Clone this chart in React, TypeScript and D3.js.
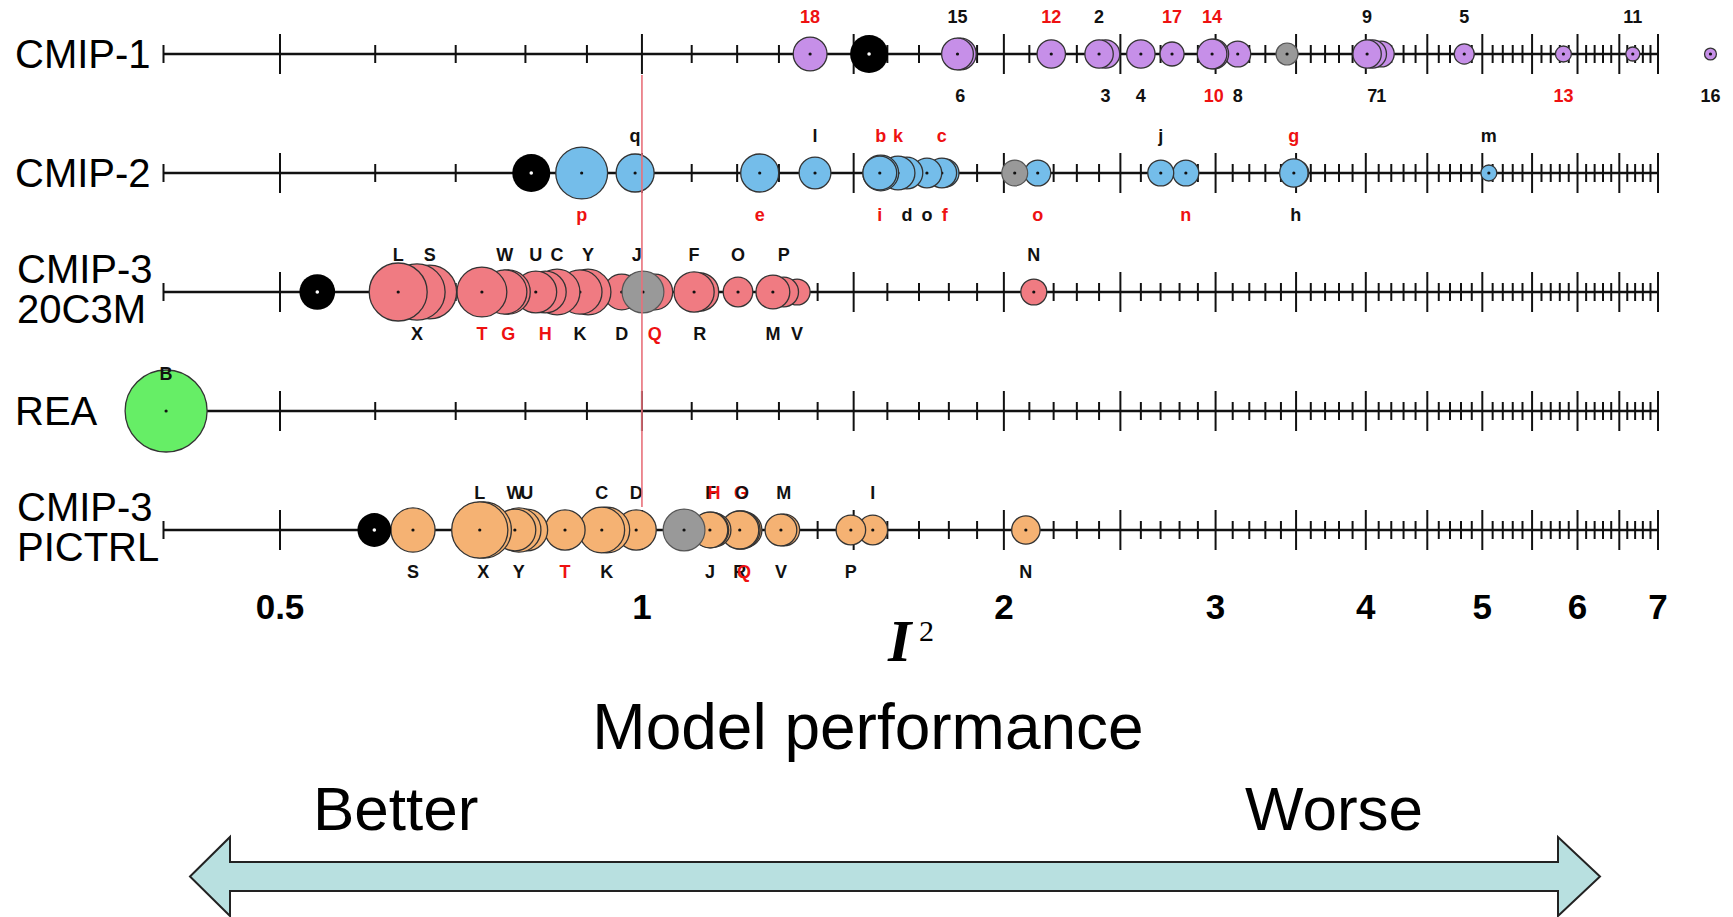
import React from 'react';
import * as d3 from 'd3';

// model entries: [label, I2 value, size (relative weight), label side, red label]
type Entry = [string, number, number, 't' | 'b', 0 | 1];

const cmip1: Entry[] = [
  ['18', 1.38, 17, 't', 1], ['15', 1.83, 15, 't', 0], ['6', 1.84, 15, 'b', 0],
  ['12', 2.19, 12, 't', 1], ['2', 2.40, 12, 't', 0], ['3', 2.43, 12, 'b', 0],
  ['4', 2.60, 12, 'b', 0], ['17', 2.76, 8.6, 't', 1], ['14', 2.98, 13, 't', 1],
  ['10', 2.99, 13, 'b', 1], ['8', 3.13, 10, 'b', 0], ['9', 4.01, 12, 't', 0],
  ['7', 4.05, 12, 'b', 0], ['1', 4.12, 10, 'b', 0], ['5', 4.83, 6, 't', 0],
  ['13', 5.84, 3.8, 'b', 1], ['11', 6.67, 2.9, 't', 0], ['16', 7.74, 2.1, 'b', 0],
];
const cmip2: Entry[] = [
  ['p', 0.891, 40, 'b', 1], ['q', 0.987, 21.5, 't', 0], ['e', 1.253, 21.5, 'b', 1],
  ['l', 1.393, 15, 't', 0], ['b', 1.580, 19, 't', 1], ['i', 1.577, 17, 'b', 1],
  ['k', 1.633, 17, 't', 1], ['d', 1.661, 15, 'b', 0], ['o', 1.726, 13, 'b', 0],
  ['c', 1.776, 13, 't', 1], ['f', 1.786, 12, 'b', 1], ['o', 2.134, 10, 'b', 1],
  ['j', 2.701, 10, 't', 0], ['n', 2.834, 10, 'b', 1], ['g', 3.485, 12, 't', 1],
  ['h', 3.498, 10, 'b', 0], ['m', 5.063, 3.8, 't', 0],
];
const cmip3c20: Entry[] = [
  ['L', 0.627, 50, 't', 0], ['X', 0.650, 47, 'b', 0], ['S', 0.666, 43, 't', 0],
  ['T', 0.736, 37, 'b', 1], ['W', 0.769, 29, 't', 0], ['G', 0.774, 29, 'b', 1],
  ['U', 0.816, 26, 't', 0], ['H', 0.831, 26, 'b', 1], ['C', 0.850, 31, 't', 0],
  ['K', 0.888, 29, 'b', 0], ['Y', 0.902, 31, 't', 0], ['D', 0.962, 19, 'b', 0],
  ['J', 0.990, 19, 't', 0], ['Q', 1.025, 19, 'b', 1], ['F', 1.105, 24, 't', 0],
  ['R', 1.117, 21.5, 'b', 0], ['O', 1.202, 13, 't', 0], ['M', 1.285, 17, 'b', 0],
  ['P', 1.312, 13, 't', 0], ['V', 1.346, 10, 'b', 0], ['N', 2.118, 10, 't', 0],
];
const rea: Entry[] = [['B', 0.402, 100, 't', 0]];
const cmip3pi: Entry[] = [
  ['S', 0.645, 29, 'b', 0], ['L', 0.733, 47, 't', 0], ['X', 0.738, 47, 'b', 0],
  ['W', 0.784, 26, 't', 0], ['Y', 0.790, 29, 'b', 0], ['U', 0.802, 26, 't', 0],
  ['T', 0.863, 24, 'b', 1], ['C', 0.926, 31, 't', 0], ['K', 0.935, 31, 'b', 0],
  ['D', 0.989, 24, 't', 0], ['J', 1.139, 19, 'b', 0], ['F', 1.141, 19, 't', 0],
  ['H', 1.148, 17, 't', 1], ['R', 1.206, 21.5, 'b', 0], ['G', 1.209, 21.5, 't', 1],
  ['O', 1.211, 19, 't', 0], ['Q', 1.216, 19, 'b', 1], ['V', 1.305, 15, 'b', 0],
  ['M', 1.312, 15, 't', 0], ['P', 1.492, 13, 'b', 0], ['I', 1.556, 13, 't', 0],
  ['N', 2.086, 12, 'b', 0],
];

// black = mean-model marker, gray = second summary marker: [value, size]
const blackMarks: ([number, number] | null)[] = [[1.545, 21.5], [0.809, 21.5], [0.537, 19], null, [0.599, 17]];
const grayMarks: ([number, number] | null)[] = [[3.44, 7.2], [2.042, 10], [1.002, 26], null, [1.084, 26]];

const rowNames = [['CMIP-1'], ['CMIP-2'], ['CMIP-3', '20C3M'], ['REA'], ['CMIP-3', 'PICTRL']];
const rowData = [cmip1, cmip2, cmip3c20, rea, cmip3pi];
const rowFills = ['#c68fe8', '#74bdea', '#f07b82', '#66ee66', '#f5b273'];

const tickLabels = [0.5, 1, 2, 3, 4, 5, 6, 7];

const W = 1733;
const H = 917;

export default function App() {
  const x = d3.scaleLog().domain([0.4, 7]).range([163.5, 1658]);
  const r = d3.scaleSqrt().domain([0, 100]).range([0, 41]);
  const rowY = d3.scalePoint<number>().domain(d3.range(5)).range([54, 530]);

  const major = d3.range(1, 15).map(i => i * 0.5);
  const minor = d3.range(6, 70).filter(i => i % 5 !== 0).map(i => i / 10);

  const font = '"Liberation Sans", Arial, sans-serif';

  return (
    <svg width={W} height={H} style={{ position: 'fixed', left: 0, top: 0, background: '#fff' }}>
      {rowData.map((models, ri) => {
        const y = rowY(ri)!;
        const sorted = [...models].sort((a, b) => b[1] - a[1]);
        const names = rowNames[ri];
        return (
          <g key={ri}>
            {names.map((n, i) => (
              <text key={n} x={names.length === 1 ? 15 : 17}
                y={names.length === 1 ? y : y + (i === 0 ? -23 : 17)}
                dy="0.36em" fontFamily={font} fontSize={40} textLength={n.length > 3 ? undefined : undefined}>{n}</text>
            ))}
            <line x1={x(0.4)} x2={x(7)} y1={y} y2={y} stroke="#111" strokeWidth={2.6} />
            <line x1={x(0.4)} x2={x(0.4)} y1={y - 9} y2={y + 9} stroke="#111" strokeWidth={2} />
            {minor.map(v => (
              <line key={'m' + v} x1={x(v)} x2={x(v)} y1={y - 9} y2={y + 9} stroke="#111" strokeWidth={2} />
            ))}
            {major.map(v => (
              <line key={'M' + v} x1={x(v)} x2={x(v)} y1={y - 20} y2={y + 20} stroke="#111" strokeWidth={2} />
            ))}
            {sorted.map((m, i) => (
              <g key={'c' + i}>
                <circle cx={x(m[1])} cy={y} r={r(m[2])} fill={rowFills[ri]} stroke="#333" strokeWidth={1.3} />
                <circle cx={x(m[1])} cy={y} r={1.6} fill="#111" />
              </g>
            ))}
            {grayMarks[ri] && (
              <g>
                <circle cx={x(grayMarks[ri]![0])} cy={y} r={r(grayMarks[ri]![1])} fill="#999" stroke="#555" strokeWidth={1.2} />
                <circle cx={x(grayMarks[ri]![0])} cy={y} r={1.6} fill="#111" />
              </g>
            )}
            {blackMarks[ri] && (
              <g>
                <circle cx={x(blackMarks[ri]![0])} cy={y} r={r(blackMarks[ri]![1])} fill="#000" />
                <circle cx={x(blackMarks[ri]![0])} cy={y} r={1.8} fill="#fff" />
              </g>
            )}
            {models.map((m, i) => (
              <text key={'l' + i} x={x(m[1])} y={m[3] === 't' ? y - 37 : y + 42} dy="0.36em"
                textAnchor="middle" fontFamily={font} fontWeight="bold" fontSize={18}
                fill={m[4] ? '#ee1111' : '#111'}>{m[0]}</text>
            ))}
          </g>
        );
      })}

      <line x1={x(1)} x2={x(1)} y1={75} y2={507} stroke="#e8707a" strokeWidth={1.6} />

      {tickLabels.map(v => (
        <text key={v} x={x(v)} y={619} textAnchor="middle" fontFamily={font} fontWeight="bold" fontSize={35}>
          {v}
        </text>
      ))}

      <text x={888} y={661} fontFamily='"Liberation Serif", "Times New Roman", serif' fontStyle="italic"
        fontWeight="bold" fontSize={60}>I</text>
      <text x={919} y={641} fontFamily='"Liberation Serif", "Times New Roman", serif' fontSize={30}>2</text>

      <text x={868} y={749} textAnchor="middle" fontFamily={font} fontSize={64}>Model performance</text>
      <text x={313} y={830} fontFamily={font} fontSize={62}>Better</text>
      <text x={1245} y={830} fontFamily={font} fontSize={62}>Worse</text>

      <path
        d="M190,876.5 L230,837 L230,862 L1558,862 L1558,837 L1600,876.5 L1558,916 L1558,891 L230,891 L230,916 Z"
        fill="#b8e0e0" stroke="#222" strokeWidth={2} strokeLinejoin="miter" />
    </svg>
  );
}
